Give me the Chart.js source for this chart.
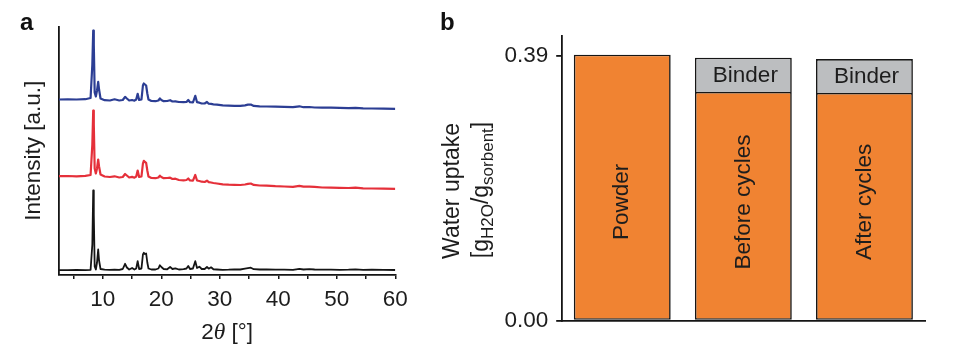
<!DOCTYPE html>
<html><head><meta charset="utf-8">
<script src="https://cdn.jsdelivr.net/npm/chart.js@4.4.1/dist/chart.umd.min.js"></script>
<style>
html,body{margin:0;padding:0;background:#fff;}
#wrap{position:relative;width:973px;height:358px;overflow:hidden;background:#fff;}
canvas{position:absolute;top:0;}
#ca{left:0;} #cb{left:430px;}
</style></head><body>
<div id="wrap"><canvas id="ca" width="430" height="358"></canvas><canvas id="cb" width="543" height="358"></canvas></div>
<script>
// ---------- Panel a: XRD patterns (2θ in degrees, intensity in arbitrary offset units) ----------
const XRD_2THETA = [2.5, 4, 5.5, 7, 7.9, 8.2, 8.35, 8.45, 8.6, 8.8, 9.0, 9.2, 9.35, 9.6, 10.3, 11.2, 12.0, 12.8, 13.4, 13.8, 14.1, 14.5, 15.0, 15.4, 15.7, 15.95, 16.2, 16.6, 16.85, 17.0, 17.2, 17.4, 17.6, 17.8, 18.3, 19.0, 19.5, 19.75, 20.0, 20.4, 21.0, 21.5, 21.9, 22.4, 23.0, 23.8, 24.3, 24.6, 24.9, 25.4, 25.8, 26.1, 26.5, 26.9, 27.4, 27.8, 28.1, 28.5, 28.9, 29.5, 30.5, 31.5, 32.5, 33.5, 34.3, 34.8, 35.3, 35.8, 36.8, 38.0, 39.5, 41.0, 42.5, 43.6, 44.3, 45.3, 46.2, 47.5, 49.0, 50.5, 52.0, 53.2, 54.5, 56.0, 58.0, 60.0];
const XRD_BLACK = [4.3, 4.3, 4.5, 4.4, 4.6, 30, 84, 60, 8, 5, 12, 25, 14, 5.5, 4.8, 4.6, 4.8, 4.7, 5.5, 10.7, 7, 5, 6.5, 5, 6, 13.3, 5.5, 6, 20, 21.7, 20.5, 21, 12, 6, 5, 5, 6, 9.3, 7.5, 5.5, 5.2, 7.5, 5.5, 6.2, 5, 5.3, 6, 8.5, 5.5, 6, 13.3, 6.5, 7.8, 5.5, 5.5, 7.5, 5.8, 7.2, 5.2, 5, 4.7, 4.8, 5.2, 5, 5.8, 6.3, 6.8, 5.3, 5, 5.2, 4.8, 4.9, 4.7, 5.6, 5, 5.4, 5, 4.8, 4.9, 4.7, 4.8, 5.1, 4.7, 4.8, 4.6, 4.5];
const XRD_RED = [98.3, 98.5, 98.2, 98.6, 99.5, 130, 164, 150, 106, 101, 106, 115, 108, 100, 98, 97.5, 98.2, 97, 97.5, 100.5, 99, 97, 97.6, 96.8, 98, 104, 97.5, 98, 111, 113.7, 112.5, 111.7, 104, 98, 96.5, 96.3, 97, 98.8, 97.5, 96.3, 96.5, 96.8, 95.5, 95.8, 94.5, 94.2, 94.5, 96, 94, 93.8, 99.5, 94, 93.5, 92.8, 92.5, 93.8, 92.3, 92, 91.5, 91, 90.2, 89.8, 89.6, 89.5, 90, 90.6, 91, 89.6, 89, 88.8, 88.3, 88, 87.7, 88.6, 87.8, 87.9, 87.6, 87, 86.9, 86.7, 86.5, 86.8, 86.2, 86, 85.8, 85.7];
const XRD_BLUE = [175, 175.2, 175, 175.3, 176.5, 210, 244, 230, 182, 178, 184, 192.7, 185, 176, 174.3, 174, 175.2, 174, 174.5, 177.7, 176, 174, 174.5, 173.8, 175, 180.7, 174.5, 175, 189, 191, 190, 189, 181, 175, 173.5, 173.3, 174, 176, 174.5, 173.3, 173.5, 174.3, 173, 173.2, 172.5, 172.3, 172.5, 174.5, 172.3, 172, 178.7, 172.3, 171.8, 171, 171, 172.5, 170.8, 170.6, 170.2, 169.8, 169.2, 168.9, 168.7, 168.6, 169.2, 169.8, 170, 168.6, 168.2, 168, 167.8, 167.6, 167.3, 168.2, 167.3, 167.5, 167, 166.8, 166.8, 166.6, 166.4, 166.7, 166.1, 166, 165.8, 165.7];
const X_TICKS = [5, 10, 15, 20, 25, 30, 35, 40, 45, 50, 55, 60];
const X_TICK_LABELS = ['', '10', '', '20', '', '30', '', '40', '', '50', '', '60'];

// ---------- Panel b: water uptake ----------
const CATEGORIES = ['Powder', 'Before cycles', 'After cycles'];
const SORBENT = [0.392, 0.337, 0.3355];
const BINDER = [null, 0.0505, 0.050];
const Y_TICKS = [0, 0.39];
const Y_TICK_LABELS = ['0.00', '0.39'];

const FONT = '"Liberation Sans", Arial, Helvetica, sans-serif';
const TXT = '#1d1d1d';
const FS = 22.5;
Chart.defaults.font.family = FONT;
Chart.defaults.color = TXT;

function pairs(xs, ys) { return xs.map((x, i) => ({ x: x, y: ys[i] })); }

const panelLetter = (letter, x, y) => ({
  id: 'letter' + letter,
  afterDraw(chart) {
    const ctx = chart.ctx;
    ctx.save();
    ctx.fillStyle = '#111';
    ctx.font = 'bold 24px ' + FONT;
    ctx.textBaseline = 'alphabetic';
    ctx.textAlign = 'left';
    ctx.fillText(letter, x, y);
    ctx.restore();
  }
});

const xTitlePlugin = {
  id: 'xTitle',
  afterDraw(chart) {
    const ctx = chart.ctx, ca = chart.chartArea;
    const cx = (ca.left + ca.right) / 2, cy = 333;
    const parts = [
      { t: '2', f: FS + 'px ' + FONT },
      { t: 'θ', f: 'italic ' + (FS + 1) + 'px "Liberation Serif", "DejaVu Serif", serif' },
      { t: ' [°]', f: FS + 'px ' + FONT }
    ];
    ctx.save();
    ctx.fillStyle = TXT;
    ctx.textBaseline = 'middle';
    ctx.textAlign = 'left';
    let total = 0;
    parts.forEach(p => { ctx.font = p.f; p.w = ctx.measureText(p.t).width; total += p.w; });
    let x = cx - total / 2;
    parts.forEach(p => { ctx.font = p.f; ctx.fillText(p.t, x, cy); x += p.w; });
    ctx.restore();
  }
};

new Chart(document.getElementById('ca'), {
  type: 'line',
  data: {
    datasets: [
      { label: 'Black', data: pairs(XRD_2THETA, XRD_BLACK), borderColor: '#151515', borderWidth: 1.8 },
      { label: 'Red', data: pairs(XRD_2THETA, XRD_RED), borderColor: '#e5303a', borderWidth: 2.2 },
      { label: 'Blue', data: pairs(XRD_2THETA, XRD_BLUE), borderColor: '#2c3e94', borderWidth: 2.2 }
    ]
  },
  options: {
    responsive: false, animation: false, devicePixelRatio: 1,
    layout: { padding: { top: 27, right: 34.7, bottom: 0, left: 0 } },
    plugins: { legend: { display: false }, tooltip: { enabled: false } },
    elements: { point: { radius: 0 }, line: { tension: 0, borderJoinStyle: 'round' } },
    scales: {
      x: {
        type: 'linear', min: 2.5, max: 60,
        afterBuildTicks: s => { s.ticks = X_TICKS.map(v => ({ value: v })); },
        afterFit: s => { s.height = 83.5; },
        grid: { display: true, drawOnChartArea: false, drawTicks: true, tickLength: 4.5, color: '#151515', lineWidth: 1.5 },
        border: { display: true, color: '#151515', width: 1.8 },
        ticks: { autoSkip: false, maxRotation: 0, padding: 7.5, font: { size: FS }, color: TXT,
          callback: (v, i) => X_TICK_LABELS[i] }
      },
      y: {
        min: 0, max: 247.5,
        afterFit: s => { s.width = 59; },
        grid: { display: false },
        border: { display: true, color: '#151515', width: 1.8 },
        ticks: { display: false },
        title: { display: true, text: 'Intensity [a.u.]', font: { size: FS }, color: TXT, padding: { top: 20, bottom: 0 } }
      }
    }
  },
  plugins: [xTitlePlugin, panelLetter('a', 20, 30)]
});

const LABEL_Y_VALUE = 0.175;
const barLabelPlugin = {
  id: 'barLabels',
  afterDatasetsDraw(chart) {
    const ctx = chart.ctx, ys = chart.scales.y;
    const m0 = chart.getDatasetMeta(0), m1 = chart.getDatasetMeta(1);
    ctx.save();
    ctx.fillStyle = TXT;
    ctx.font = FS + 'px ' + FONT;
    ctx.textAlign = 'center';
    ctx.textBaseline = 'middle';
    m0.data.forEach((el, i) => {
      ctx.save();
      ctx.translate(el.x, ys.getPixelForValue(LABEL_Y_VALUE));
      ctx.rotate(-Math.PI / 2);
      ctx.fillText(CATEGORIES[i], 0, 0);
      ctx.restore();
    });
    m1.data.forEach((el, i) => {
      if (BINDER[i] == null) return;
      ctx.fillText('Binder', el.x + 2, (el.y + el.base) / 2 + 1);
    });
    ctx.restore();
  }
};

const yTitleB = {
  id: 'yTitleB',
  afterDraw(chart) {
    const ctx = chart.ctx;
    ctx.save();
    ctx.fillStyle = TXT;
    // line 1
    ctx.save();
    ctx.translate(23, 191);
    ctx.rotate(-Math.PI / 2);
    ctx.font = '23px ' + FONT;
    ctx.textAlign = 'center';
    ctx.textBaseline = 'middle';
    ctx.fillText('Water uptake', 0, 0);
    ctx.restore();
    // line 2 with subscripts
    const main = '23px ' + FONT, sub = '17px ' + FONT;
    const parts = [
      { t: '[', f: main, dy: 0 }, { t: 'g', f: main, dy: 0 }, { t: 'H2O', f: sub, dy: 5 },
      { t: '/', f: main, dy: 0 }, { t: 'g', f: main, dy: 0 }, { t: 'sorbent', f: sub, dy: 5 },
      { t: ']', f: main, dy: 0 }
    ];
    ctx.save();
    ctx.translate(58, 190);
    ctx.rotate(-Math.PI / 2);
    ctx.textAlign = 'left';
    ctx.textBaseline = 'alphabetic';
    let total = 0;
    parts.forEach(p => { ctx.font = p.f; p.w = ctx.measureText(p.t).width; total += p.w; });
    let x = -total / 2;
    parts.forEach(p => { ctx.font = p.f; ctx.fillText(p.t, x, p.dy); x += p.w; });
    ctx.restore();
    ctx.restore();
  }
};

new Chart(document.getElementById('cb'), {
  type: 'bar',
  data: {
    labels: CATEGORIES,
    datasets: [
      { label: 'Sorbent', data: SORBENT, backgroundColor: '#f08332', borderColor: '#161616', borderWidth: 1.6, borderSkipped: false },
      { label: 'Binder', data: BINDER, backgroundColor: '#bcbec0', borderColor: '#161616',
        borderWidth: { top: 1.6, left: 1.6, right: 1.6, bottom: 0 }, borderSkipped: false }
    ]
  },
  options: {
    responsive: false, animation: false, devicePixelRatio: 1,
    layout: { padding: { top: 36, right: 48, bottom: 0, left: 0 } },
    plugins: { legend: { display: false }, tooltip: { enabled: false } },
    datasets: { bar: { categoryPercentage: 1, barPercentage: 0.8 } },
    scales: {
      x: {
        stacked: true,
        afterFit: s => { s.height = 37.3; },
        grid: { display: false },
        border: { display: true, color: '#151515', width: 1.8 },
        ticks: { display: false }
      },
      y: {
        stacked: true, min: 0, max: 0.4195,
        afterBuildTicks: s => { s.ticks = Y_TICKS.map(v => ({ value: v })); },
        afterFit: s => { s.width = 131.7; },
        grid: { display: true, drawOnChartArea: false, drawTicks: true, tickLength: 5.5, color: '#151515', lineWidth: 1.8 },
        border: { display: true, color: '#151515', width: 1.8 },
        ticks: { padding: 8, font: { size: FS }, color: TXT, callback: (v, i) => Y_TICK_LABELS[i] }
      }
    }
  },
  plugins: [barLabelPlugin, yTitleB, panelLetter('b', 10, 30)]
});
</script>
</body></html>
